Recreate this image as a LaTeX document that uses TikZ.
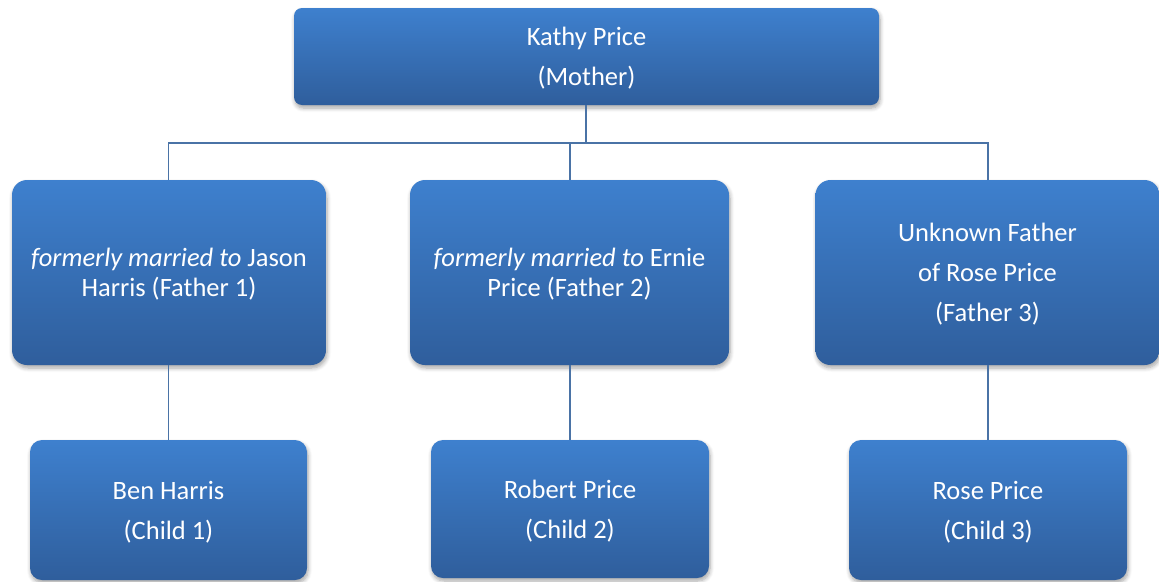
\documentclass[tikz,border=0pt]{standalone}
\usepackage{fontspec}
\setmainfont{Carlito}
\usetikzlibrary{shadows.blur}
\definecolor{boxtop}{HTML}{3E80CE}
\definecolor{boxbot}{HTML}{2F5E9C}
\definecolor{linec}{HTML}{4A73A6}
\tikzset{
  box/.style={draw=none, top color=boxtop, bottom color=boxbot, text=white,
    align=center, inner sep=0pt, text depth=-2pt,
    font=\fontsize{26.5}{40}\selectfont,
    blur shadow={shadow xshift=1pt, shadow yshift=-3pt, shadow blur steps=6, shadow blur radius=4pt, shadow opacity=35}},
  conn/.style={draw=linec, line width=1.5pt},
}
\begin{document}
\begin{tikzpicture}[x=1pt,y=-1pt]
\useasboundingbox (0,0) rectangle (1159,581);
\node[box, rounded corners=8pt, minimum width=585pt, minimum height=97pt] (mother) at (586.5,56.5) {Kathy Price\\(Mother)};
\node[box, rounded corners=15pt, minimum width=314pt, minimum height=185pt, font=\fontsize{26.5}{30}\selectfont] (f1) at (169,272.5) {\textit{formerly married to} Jason\\Harris (Father 1)};
\node[box, rounded corners=15pt, minimum width=319pt, minimum height=185pt, font=\fontsize{26.5}{30}\selectfont] (f2) at (569.5,272.5) {\textit{formerly married to} Ernie\\Price (Father 2)};
\node[box, rounded corners=15pt, minimum width=344pt, minimum height=185pt] (f3) at (987.5,272.5) {Unknown Father\\of Rose Price\\(Father 3)};
\node[box, rounded corners=12pt, minimum width=277pt, minimum height=140pt] (c1) at (168.5,510) {Ben Harris\\(Child 1)};
\node[box, rounded corners=12pt, minimum width=278pt, minimum height=138pt] (c2) at (570,509) {Robert Price\\(Child 2)};
\node[box, rounded corners=12pt, minimum width=278pt, minimum height=140pt] (c3) at (988,510) {Rose Price\\(Child 3)};
\coordinate (bus) at (586,143);
\draw[conn] (mother.south -| bus) -- (bus);
\draw[conn] (f1.north -| c1) |- (bus);
\draw[conn] (f3.north -| c3) |- (bus);
\draw[conn] (f2.north -| c2) -- (bus -| c2);
\draw[conn] (f1.south -| c1) -- (c1.north);
\draw[conn] (f2.south -| c2) -- (c2.north);
\draw[conn] (f3.south -| c3) -- (c3.north);
\end{tikzpicture}
\end{document}
